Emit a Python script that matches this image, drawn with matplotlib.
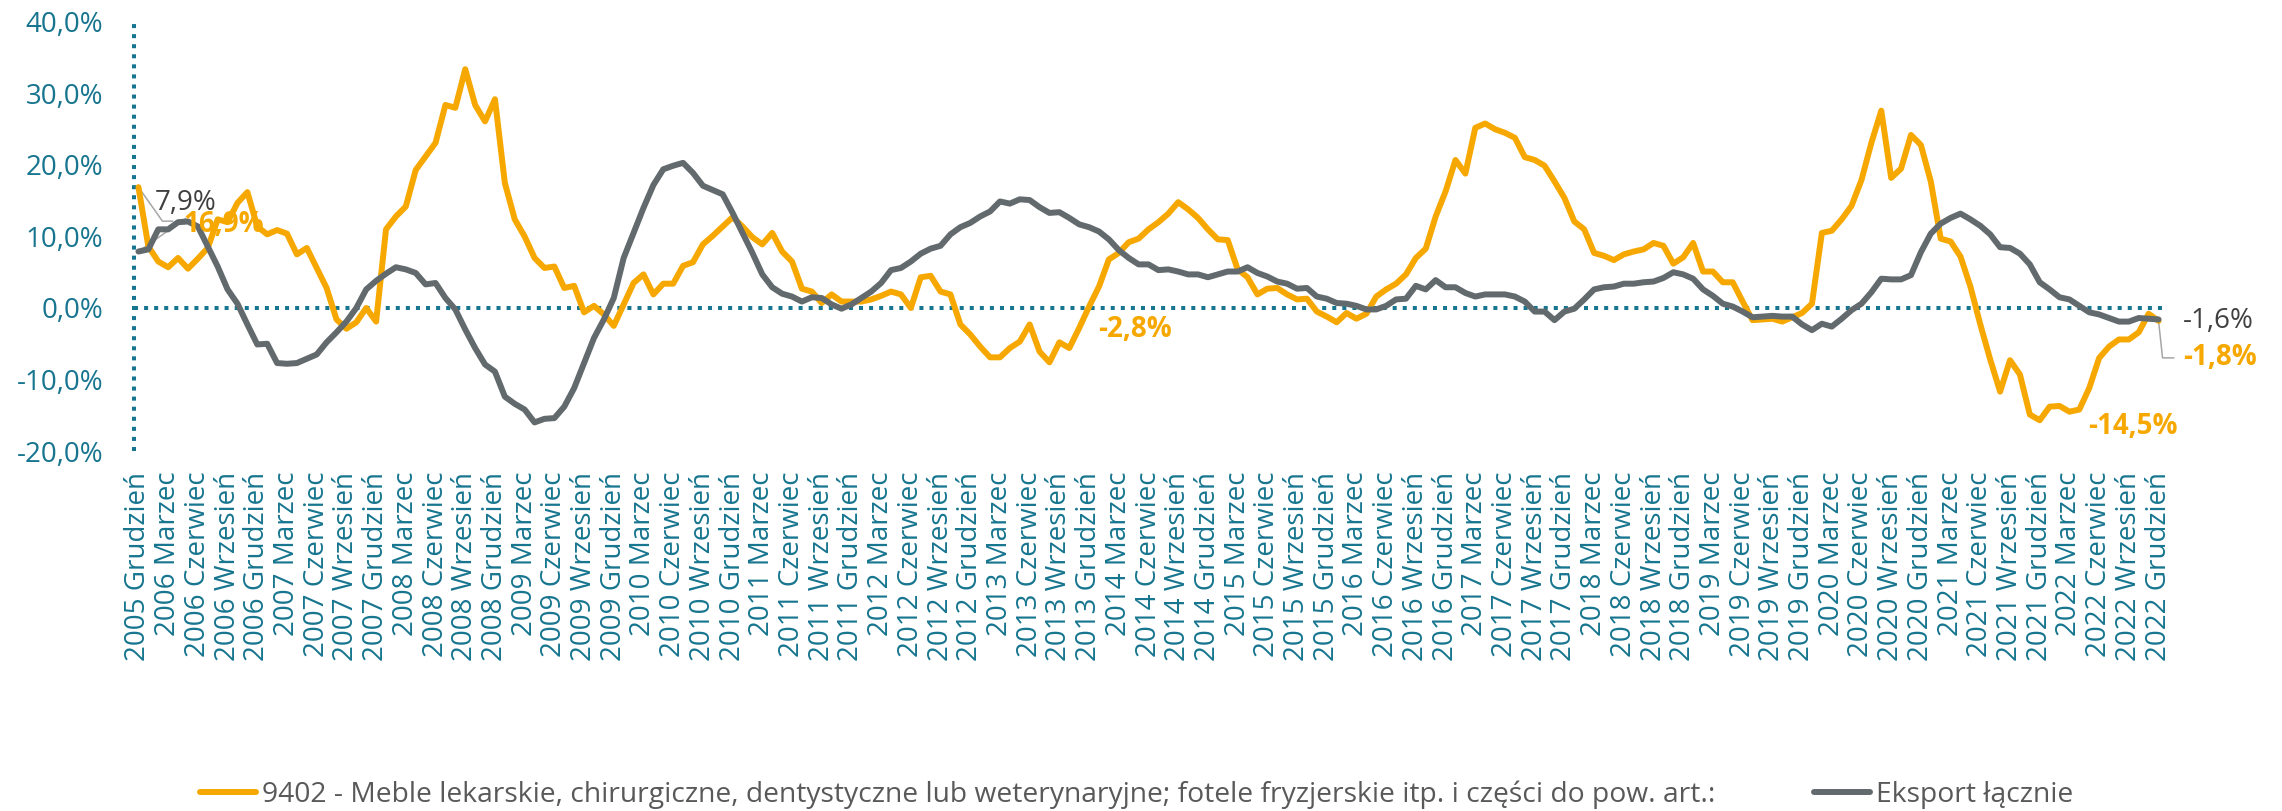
import matplotlib.pyplot as plt
from matplotlib.ticker import FuncFormatter, MultipleLocator

# monthly series, Dec 2005 .. Dec 2022 (values in %)
start_year = 2005
start_month = 12
month_names = ["Styczeń", "Luty", "Marzec", "Kwiecień", "Maj", "Czerwiec",
               "Lipiec", "Sierpień", "Wrzesień", "Październik", "Listopad", "Grudzień"]

meble_9402 = [
    16.9, 8.6, 6.5, 5.7, 7.0, 5.5, 6.9, 8.4, 12.4, 12.0, 14.7, 16.2,
    11.4, 10.3, 10.9, 10.4, 7.5, 8.4, 5.6, 2.8, -1.6, -2.9, -2.0, 0.0,
    -1.9, 11.0, 12.8, 14.2, 19.3, 21.2, 23.1, 28.4, 28.0, 33.4, 28.4, 26.1,
    29.2, 17.5, 12.4, 10.0, 7.0, 5.6, 5.8, 2.8, 3.1, -0.6, 0.3, -0.9,
    -2.5, 0.5, 3.5, 4.7, 1.9, 3.4, 3.4, 5.9, 6.4, 8.9, 10.1, 11.4,
    12.7, 11.4, 9.9, 8.9, 10.5, 7.9, 6.5, 2.7, 2.3, 0.7, 1.9, 0.9,
    0.9, 0.9, 1.2, 1.7, 2.3, 1.9, 0.0, 4.3, 4.5, 2.3, 1.9, -2.3,
    -3.7, -5.4, -6.9, -6.9, -5.6, -4.7, -2.3, -6.1, -7.6, -4.8, -5.6, -2.8,
    0.2, 3.0, 6.8, 7.7, 9.2, 9.7, 11.0, 12.0, 13.2, 14.8, 13.8, 12.6,
    11.0, 9.6, 9.5, 5.4, 4.3, 1.9, 2.7, 2.8, 1.9, 1.2, 1.3, -0.5,
    -1.2, -2.0, -0.7, -1.5, -0.8, 1.6, 2.6, 3.4, 4.7, 7.0, 8.3, 12.8,
    16.3, 20.7, 18.8, 25.2, 25.8, 25.0, 24.5, 23.8, 21.1, 20.7, 19.9, 17.7,
    15.4, 12.1, 11.0, 7.7, 7.3, 6.7, 7.5, 7.9, 8.2, 9.1, 8.7, 6.2,
    7.1, 9.1, 5.1, 5.1, 3.6, 3.6, 0.9, -1.7, -1.6, -1.5, -1.9, -1.3,
    -0.7, 0.6, 10.5, 10.8, 12.4, 14.3, 17.9, 23.1, 27.6, 18.2, 19.5, 24.2,
    22.8, 17.7, 9.7, 9.3, 7.2, 3.0, -2.3, -7.2, -11.7, -7.3, -9.3, -14.9,
    -15.7, -13.8, -13.7, -14.5, -14.2, -11.2, -7.0, -5.4, -4.4, -4.4, -3.4, -0.8,
    -1.8,
]

eksport_total = [
    7.9, 8.2, 11.0, 11.0, 12.0, 12.1, 11.4, 8.6, 5.8, 2.6, 0.6, -2.3,
    -5.1, -5.0, -7.7, -7.8, -7.7, -7.1, -6.5, -4.8, -3.4, -1.9, 0.0, 2.6,
    3.8, 4.8, 5.7, 5.4, 4.9, 3.3, 3.5, 1.4, -0.2, -3.0, -5.6, -7.9,
    -8.9, -12.4, -13.4, -14.2, -16.0, -15.5, -15.4, -13.8, -11.2, -7.7, -4.2, -1.6,
    1.4, 7.0, 10.5, 14.0, 17.2, 19.4, 19.9, 20.3, 18.9, 17.1, 16.5, 15.9,
    13.3, 10.5, 7.7, 4.7, 2.9, 2.0, 1.6, 0.9, 1.5, 1.4, 0.5, -0.1,
    0.5, 1.4, 2.3, 3.5, 5.3, 5.6, 6.5, 7.6, 8.3, 8.7, 10.3, 11.3,
    11.9, 12.8, 13.5, 14.9, 14.6, 15.2, 15.1, 14.1, 13.3, 13.4, 12.6, 11.7,
    11.3, 10.7, 9.6, 8.1, 7.0, 6.1, 6.1, 5.3, 5.4, 5.1, 4.7, 4.7,
    4.3, 4.7, 5.1, 5.1, 5.7, 4.9, 4.4, 3.7, 3.4, 2.7, 2.8, 1.6,
    1.3, 0.7, 0.6, 0.3, -0.2, -0.2, 0.3, 1.2, 1.3, 3.1, 2.6, 3.9,
    2.9, 2.9, 2.1, 1.6, 1.9, 1.9, 1.9, 1.6, 0.9, -0.5, -0.5, -1.7,
    -0.5, -0.1, 1.2, 2.6, 2.9, 3.0, 3.4, 3.4, 3.6, 3.7, 4.2, 5.0,
    4.7, 4.1, 2.6, 1.7, 0.6, 0.2, -0.5, -1.3, -1.2, -1.1, -1.2, -1.2,
    -2.3, -3.1, -2.2, -2.6, -1.5, -0.3, 0.6, 2.2, 4.1, 4.0, 4.0, 4.6,
    7.8, 10.4, 11.8, 12.6, 13.2, 12.4, 11.5, 10.3, 8.5, 8.4, 7.6, 6.1,
    3.6, 2.6, 1.5, 1.2, 0.3, -0.6, -0.9, -1.4, -1.9, -1.9, -1.4, -1.5,
    -1.6,
]

series_names = [
    "9402 - Meble lekarskie, chirurgiczne, dentystyczne lub weterynaryjne; "
    "fotele fryzjerskie itp. i części do pow. art.:",
    "Eksport łącznie",
]

ORANGE = "#F6A800"
GREY = "#626a6d"
TEAL = "#17758f"
LEADER = "#a6a6a6"


def pct(v):
    return f"{v:.1f}".replace(".", ",") + "%"


def main():
    plt.rcParams["font.family"] = ["Open Sans", "DejaVu Sans"]
    plt.rcParams["font.size"] = 20

    n = len(meble_9402)
    labels = []
    for k in range(n):
        m = start_month - 1 + k
        labels.append(f"{start_year + m // 12} {month_names[m % 12]}")
    x = list(range(n))

    fig = plt.figure(figsize=(22.82, 8.11), dpi=100)
    W, H = 2282, 811
    ax = fig.add_axes([134 / W, 1 - 451 / H, (2163 - 134) / W, (451 - 22) / H])

    l1, = ax.plot(x, meble_9402, color=ORANGE, lw=4.3,
                  solid_joinstyle="round", solid_capstyle="round", zorder=3)
    l2, = ax.plot(x, eksport_total, color=GREY, lw=4.3,
                  solid_joinstyle="round", solid_capstyle="round", zorder=4)

    ax.set_xlim(-0.45, n - 1 + 0.45)
    ax.set_ylim(-20, 40)
    ax.yaxis.set_major_locator(MultipleLocator(10))
    ax.yaxis.set_major_formatter(FuncFormatter(lambda v, p: pct(v)))
    ax.set_xticks(x[::3])
    ax.set_xticklabels(labels[::3], rotation=90)
    ax.tick_params(axis="y", length=0, pad=22, colors=TEAL, labelsize=20)
    ax.tick_params(axis="x", length=0, pad=15, colors=TEAL, labelsize=20)

    for s in ["top", "right", "bottom"]:
        ax.spines[s].set_visible(False)
    dots = (0, (1, 1.5))
    ax.spines["left"].set_linestyle(dots)
    ax.spines["left"].set_linewidth(2.9)
    ax.spines["left"].set_color(TEAL)
    ax.spines["left"].set_capstyle("butt")
    ax.axhline(0, color=TEAL, lw=2.9, linestyle=dots, zorder=2)

    def shift(xv, yv, dx, dy):
        # pixel offset (right, down) from a data point, back in data units
        X, Y = ax.transData.transform((xv, yv))
        return ax.transData.inverted().transform((X + dx, Y - dy))

    def leader(xv, yv, steps):
        pts = [(xv, yv)] + [tuple(shift(xv, yv, dx, dy)) for dx, dy in steps]
        ax.plot([p[0] for p in pts], [p[1] for p in pts], color=LEADER,
                lw=1.1, zorder=2.5, clip_on=False)

    def label(xv, yv, dx, dy, color, bold):
        ax.annotate(pct(yv), xy=(xv, yv), xytext=(dx * 0.72, -dy * 0.72),
                    textcoords="offset points", ha="left", va="center",
                    color=color, fontsize=20,
                    fontweight="bold" if bold else "normal",
                    annotation_clip=False, zorder=5)

    last = n - 1
    leader(0, meble_9402[0], [(24, 34), (34, 34)])
    leader(0, eksport_total[0], [(47, -33)])
    leader(last, meble_9402[last], [(4, 37), (15, 37)])

    label(0, eksport_total[0], 16, -49, "#404040", False)
    label(0, meble_9402[0], 45, 37, ORANGE, True)
    label(95, meble_9402[95], 19, 1, ORANGE, True)
    label(195, meble_9402[195], 19, 15, ORANGE, True)
    label(last, eksport_total[last], 24, 2, "#404040", False)
    label(last, meble_9402[last], 25, 37, ORANGE, True)

    fig.legend([l1, l2], series_names, loc="center left",
               bbox_to_anchor=(200 / W, 1 - 795 / H), ncol=2, frameon=False,
               fontsize=20.3, handlelength=2.0, handletextpad=0.2,
               columnspacing=3.5, borderpad=0, borderaxespad=0,
               labelcolor="#595959")

    fig.savefig("out.png", dpi=100)


if __name__ == "__main__":
    main()
